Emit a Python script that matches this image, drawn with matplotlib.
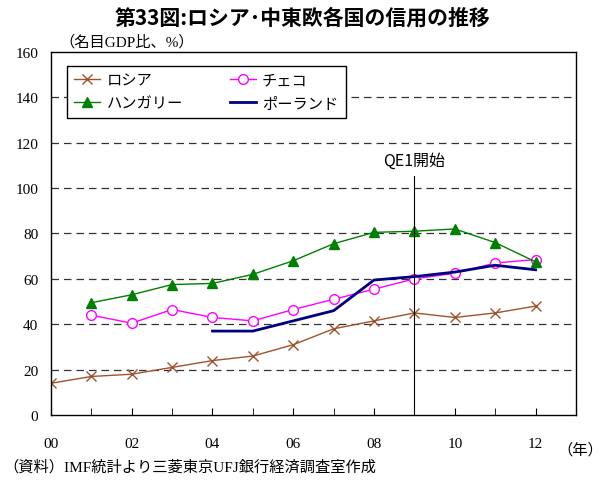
import numpy as np
import matplotlib.pyplot as plt

plt.rcParams['font.family'] = ['Liberation Serif', 'Noto Sans CJK JP']

# データ（名目GDP比、%）
years = np.arange(2000, 2013)
russia = [14, 17, 18, 21, 24, 26, 31, 38, 41.5, 45, 43, 45, 48]
czech_years = np.arange(2001, 2013)
czech = [44, 40.5, 46.5, 43, 41.5, 46.5, 51, 55.5, 60, 62.5, 67, 68.5]
hungary_years = np.arange(2001, 2013)
hungary = [49.5, 53, 57.5, 58, 62, 68, 75.5, 80.5, 81, 82, 76, 67.5]
poland_years = np.arange(2004, 2013)
poland = [37, 37, 41.5, 46, 59.5, 61, 63, 66, 64]
xtick_labels = ['00', '02', '04', '06', '08', '10', '12']

fig = plt.figure(figsize=(6.06, 4.81), dpi=100)
ax = fig.add_axes([0.084, 0.135, 0.8665, 0.755])

l1, = ax.plot(years, russia, color='#A0522D', lw=1, marker='x', ms=7, mew=1, label='ロシア')
l2, = ax.plot(czech_years, czech, color='#FF00FF', lw=1, marker='o', ms=7, mfc='white', mew=1, label='チェコ')
l3, = ax.plot(hungary_years, hungary, color='#008000', lw=1, marker='^', ms=7, label='ハンガリー')
l4, = ax.plot(poland_years, poland, color='#000080', lw=2, label='ポーランド')

# QE1
ax.plot([2009, 2009], [0, 105.5], color='black', lw=0.8)
ax.text(2009, 108.5, 'QE1開始', ha='center', va='bottom', fontsize=11.5,
        family=['Noto Sans CJK JP'])

ax.set_xlim(2000, 2013)
ax.set_ylim(0, 160)
ax.set_xticks(np.arange(2000, 2014), minor=True)
ax.set_xticks(np.arange(2000, 2013, 2))
ax.set_xticklabels(xtick_labels)
ax.set_yticks(np.arange(0, 161, 20))
ax.tick_params(axis='x', which='both', direction='in', length=5, pad=16, labelsize=11)
ax.tick_params(axis='y', length=0, pad=9, labelsize=11)
for y in range(20, 160, 20):
    ax.axhline(y, color='#333333', lw=0.9, ls=(0, (6, 4)), zorder=0)
for s in ax.spines.values():
    s.set_linewidth(1)

# 凡例は行ごとに並べる
leg = ax.legend([l1, l3, l2, l4], ['ロシア', 'ハンガリー', 'チェコ', 'ポーランド'],
                ncol=2, loc='upper left', bbox_to_anchor=(0.03, 0.961),
                fontsize=11, frameon=True, fancybox=False, edgecolor='black',
                framealpha=1, handlelength=1.7, handletextpad=0.4,
                columnspacing=3.1, borderpad=0.5, labelspacing=0.6,
                borderaxespad=0)
leg.get_frame().set_linewidth(1)

fig.text(0.5, 0.963, '第33図:ロシア･中東欧各国の信用の推移', ha='center', va='center',
         fontsize=15, fontweight='bold', family=['Noto Sans CJK JP'])
fig.text(0.098, 0.912, '（名目GDP比、%）', ha='left', va='center', fontsize=11)
fig.text(0.995, 0.064, '（年）', ha='right', va='center', fontsize=11)
fig.text(0.005, 0.028, '（資料）IMF統計より三菱東京UFJ銀行経済調査室作成', ha='left', va='center', fontsize=11)

fig.savefig('out.png', dpi=100)
